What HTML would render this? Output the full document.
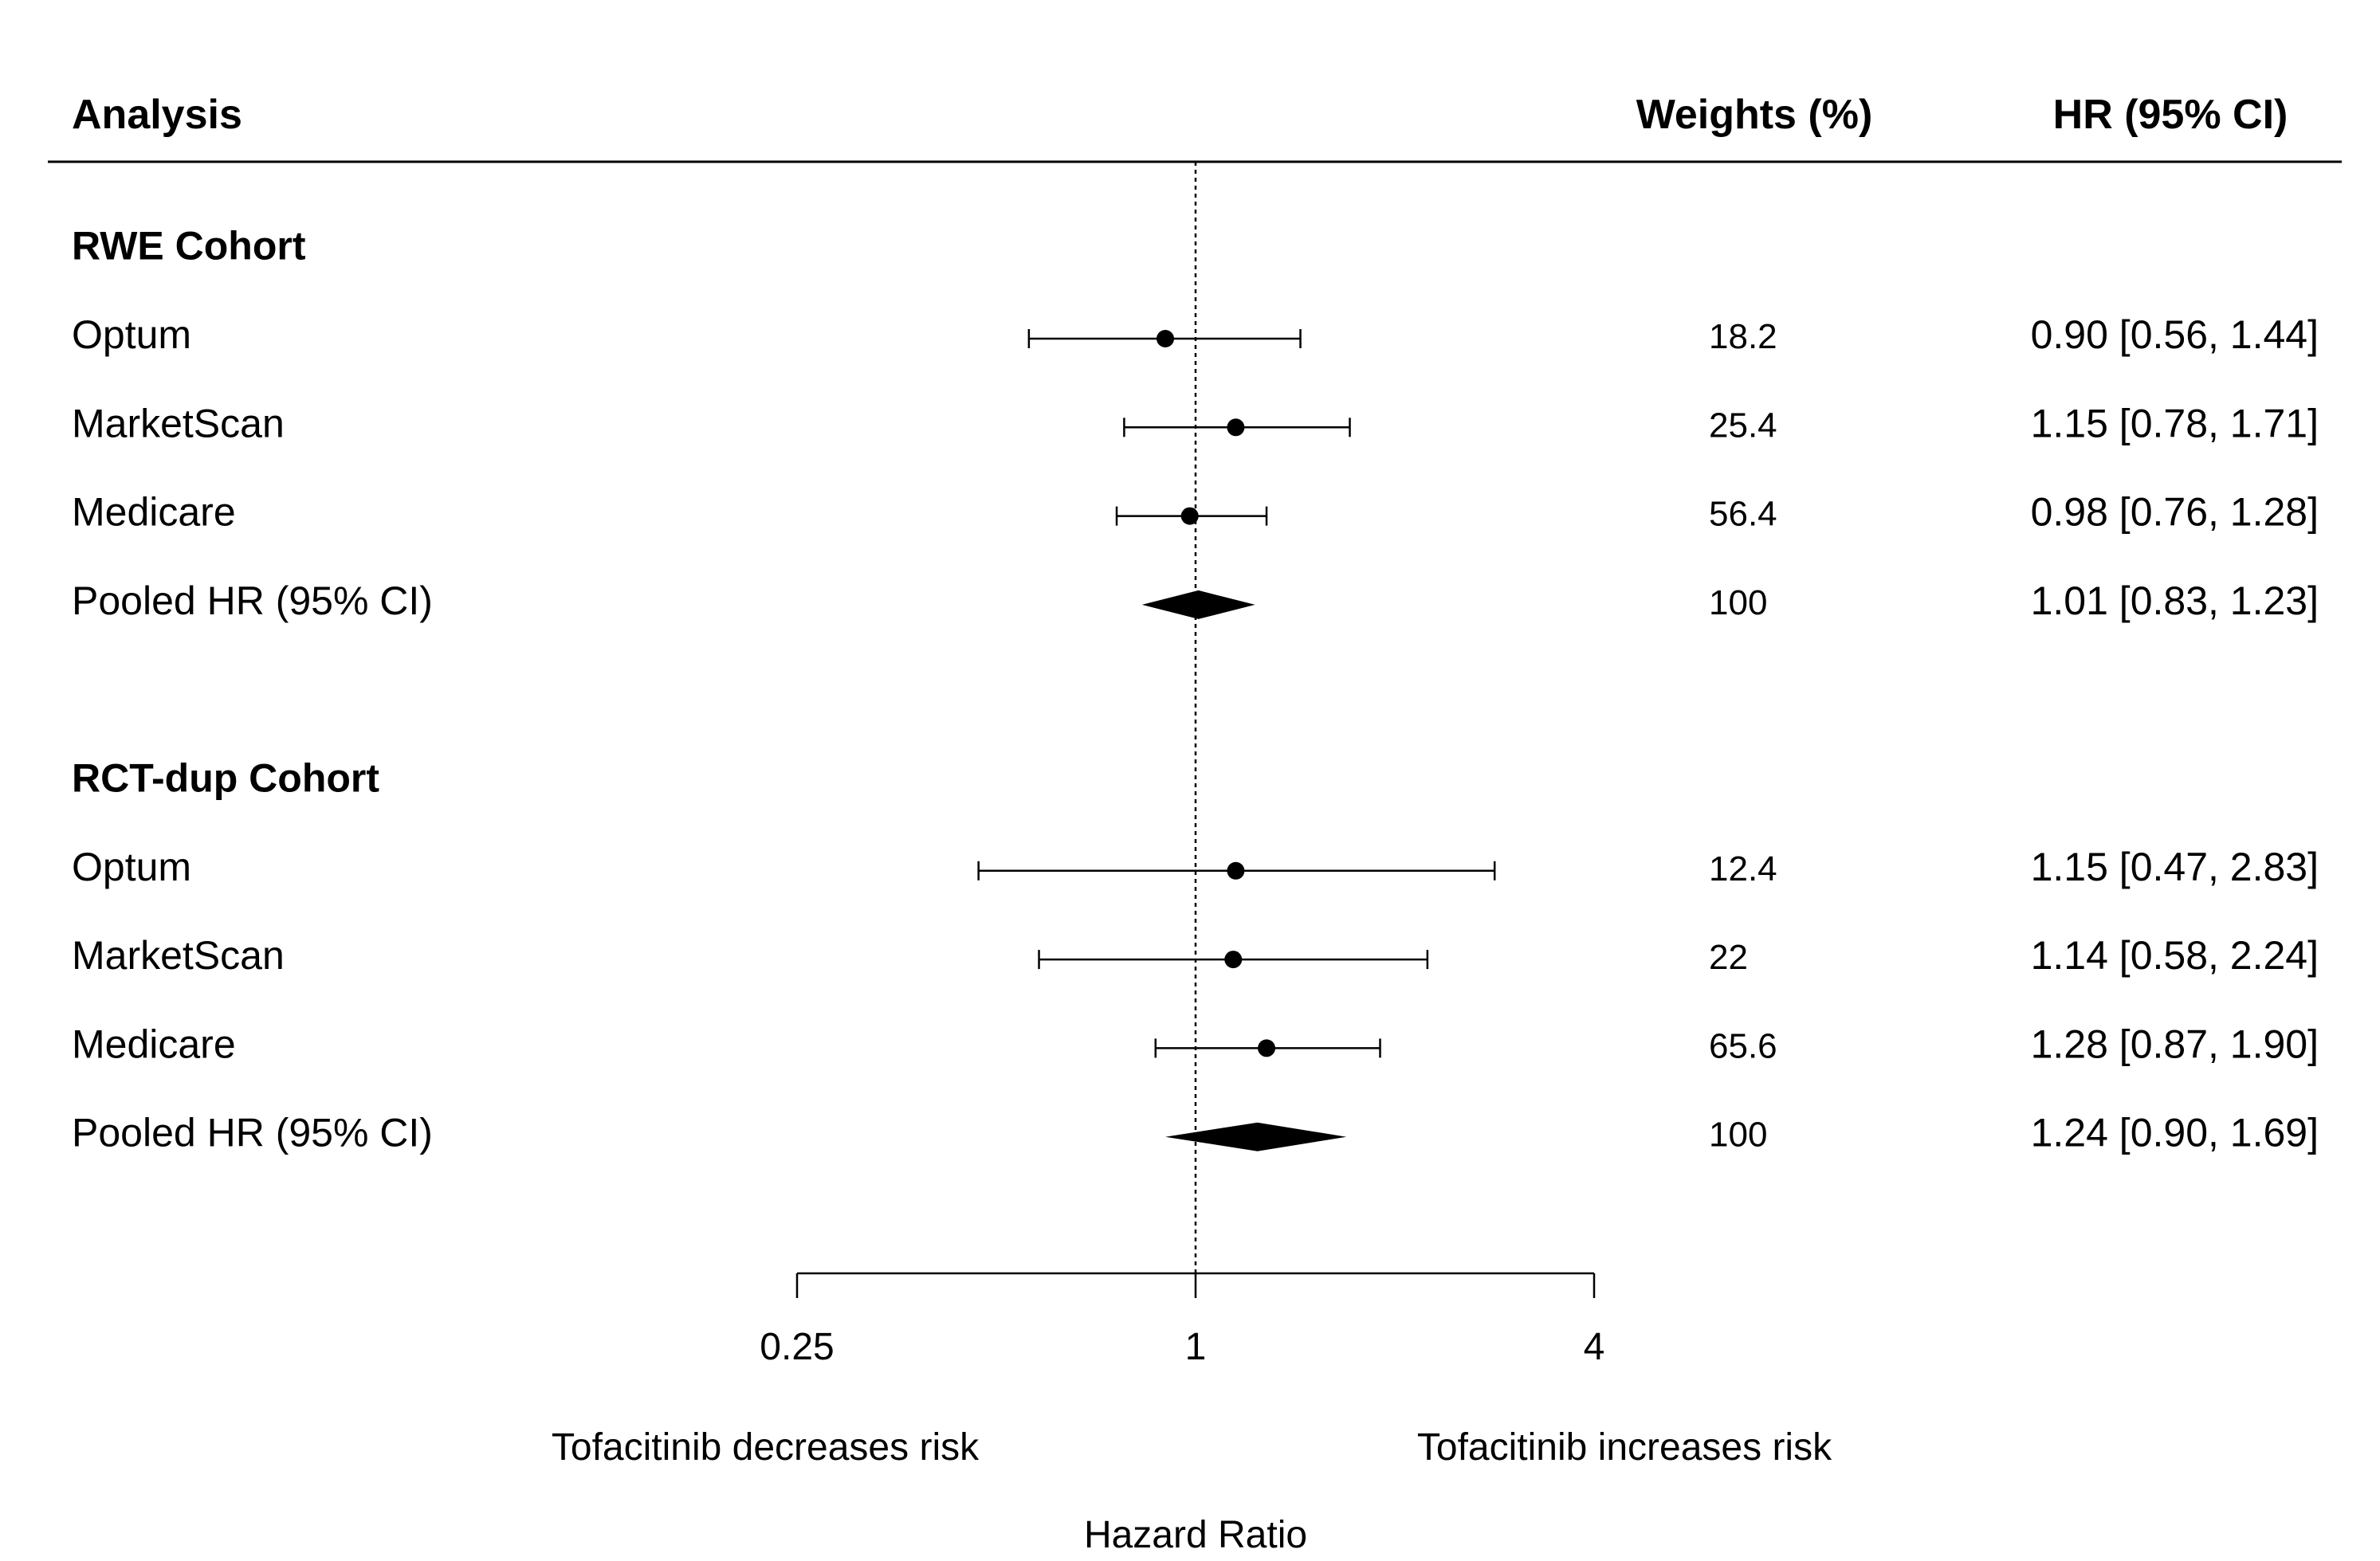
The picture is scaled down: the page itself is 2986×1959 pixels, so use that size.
<!DOCTYPE html>
<html><head><meta charset="utf-8"><style>
html,body{margin:0;padding:0;background:#fff;}
svg{display:block;font-family:"Liberation Sans",Arial,sans-serif;}
</style></head><body>
<svg id="chart" width="2986" height="1959" viewBox="0 0 2986 1959" xmlns="http://www.w3.org/2000/svg">
<rect width="2986" height="1959" fill="#fff"/>
<g font-weight="bold" font-size="52">
<text x="90" y="161">Analysis</text>
<text x="2201" y="161" text-anchor="middle">Weights (%)</text>
<text x="2723" y="161" text-anchor="middle">HR (95% CI)</text>
</g>
<line x1="60" y1="203" x2="2938" y2="203" stroke="#000" stroke-width="3"/>
<g id="rows"></g>
<g id="marks"></g>
<g id="axis"></g>
<text x="960" y="1832" font-size="48" text-anchor="middle">Tofacitinib decreases risk</text>
<text x="2038" y="1832" font-size="48" text-anchor="middle">Tofacitinib increases risk</text>
<text x="1500" y="1942" font-size="48" text-anchor="middle">Hazard Ratio</text>
</svg>
<script>
const labels = ["RWE Cohort","Optum","MarketScan","Medicare","Pooled HR (95% CI)","","RCT-dup Cohort","Optum","MarketScan","Medicare","Pooled HR (95% CI)"];
const rowType = ["group","study","study","study","pooled","blank","group","study","study","study","pooled"];
const hr    = [null,0.90,1.15,0.98,1.01,null,null,1.15,1.14,1.28,1.24];
const lower = [null,0.56,0.78,0.76,0.83,null,null,0.47,0.58,0.87,0.90];
const upper = [null,1.44,1.71,1.28,1.23,null,null,2.83,2.24,1.90,1.69];
const weights = ["","18.2","25.4","56.4","100","","","12.4","22","65.6","100",""];
const hrText = ["","0.90 [0.56, 1.44]","1.15 [0.78, 1.71]","0.98 [0.76, 1.28]","1.01 [0.83, 1.23]","","","1.15 [0.47, 2.83]","1.14 [0.58, 2.24]","1.28 [0.87, 1.90]","1.24 [0.90, 1.69]"];
const ticks = [0.25,1,4];
const tickLabels = ["0.25","1","4"];

const NS="http://www.w3.org/2000/svg";
function xs(v){return 1500+250*Math.log2(v);}
function ys(i){return 313.7+111.3*i;}
function mk(tag,attrs,parent){const e=document.createElementNS(NS,tag);for(const k in attrs)e.setAttribute(k,attrs[k]);parent.appendChild(e);return e;}
const rows=document.getElementById('rows'), marks=document.getElementById('marks'), axis=document.getElementById('axis');

const ref=mk('line',{x1:xs(1),y1:203,x2:xs(1),y2:1598,stroke:'#000','stroke-width':2.5,'stroke-dasharray':'5,5'},marks);



labels.forEach((lab,i)=>{
  const y=ys(i);
  if(lab){
    const isGroup=rowType[i]==='group';
    const t=mk('text',{x:90,y:y+12,'font-size':50,'font-weight':isGroup?'bold':'normal'},rows);
    t.textContent=lab;
    
    
  }
  if(weights[i]){
    const w=mk('text',{x:2144,y:y+12,'font-size':44},rows);
    w.textContent=weights[i];
    
    
  }
  if(hrText[i]){
    const h=mk('text',{x:2909,y:y+12,'font-size':50,'text-anchor':'end'},rows);
    h.textContent=hrText[i];
    
    
  }
  if(rowType[i]==='study'){
    const g=mk('g',{},marks);
    
    
    const a=xs(lower[i]),b=xs(upper[i]);
    mk('line',{x1:a,y1:y,x2:b,y2:y,stroke:'#000','stroke-width':2.5},g);
    mk('line',{x1:a,y1:y-12,x2:a,y2:y+12,stroke:'#000','stroke-width':2.5},g);
    mk('line',{x1:b,y1:y-12,x2:b,y2:y+12,stroke:'#000','stroke-width':2.5},g);
    const c=mk('circle',{cx:xs(hr[i]),cy:y,r:11,fill:'#000'},g);
    
    
  } else if(rowType[i]==='pooled'){
    const p=mk('polygon',{points:`${xs(lower[i])},${y} ${xs(hr[i])},${y-18} ${xs(upper[i])},${y} ${xs(hr[i])},${y+18}`,fill:'#000'},marks);
    
    
  }
});

const al=mk('line',{x1:xs(ticks[0]),y1:1598,x2:xs(ticks[ticks.length-1]),y2:1598,stroke:'#000','stroke-width':2.5},axis);


ticks.forEach((v,k)=>{
  const tk=mk('line',{x1:xs(v),y1:1598,x2:xs(v),y2:1629,stroke:'#000','stroke-width':2.5},axis);
  
  
  const tl=mk('text',{x:xs(v),y:1706,'font-size':48,'text-anchor':'middle'},axis);
  tl.textContent=tickLabels[k];
  
  
});
</script>
</body></html>
